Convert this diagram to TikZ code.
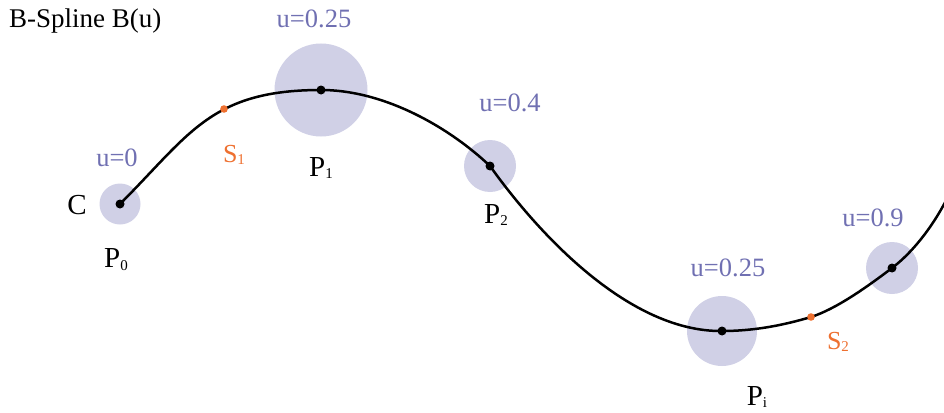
\documentclass[tikz,border=0pt]{standalone}
\usepackage{fontspec}
\setmainfont{Liberation Serif}
\definecolor{halo}{RGB}{208,208,230}
\definecolor{ulab}{RGB}{112,112,178}
\definecolor{knot}{RGB}{238,112,48}
\newcommand{\psub}[1]{\raisebox{-0.1em}{\fontsize{15}{15}\selectfont #1}}
\tikzset{
  ring/.style={circle, fill=halo, inner sep=0pt, minimum size=#1},
  ulabel/.style={text=ulab, font=\fontsize{26.5}{30}\selectfont, inner sep=0pt},
  slabel/.style={text=knot, font=\fontsize{26}{30}\selectfont, inner sep=0pt},
  plabel/.style={font=\fontsize{29}{33}\selectfont, inner sep=0pt}
}
\begin{document}
\begin{tikzpicture}[x=1pt,y=-1pt]
                \useasboundingbox (0,0) rectangle (944,412);

                % Titel
                \node[anchor=west, font=\fontsize{27}{32}\selectfont, inner sep=0pt] (title) at (9,21) {B-Spline B(u)};

                % Kontrollpunkte
                \coordinate (P0) at (120,204);
                \coordinate (S1) at (224,109);
                \coordinate (P1) at (321,90);
                \coordinate (P2) at (490,166);
                \coordinate (Pi) at (722,331);
                \coordinate (S2) at (811,317);
                \coordinate (P9) at (892,268);
                \coordinate (end) at (952,188);

                % Einflussbereiche
                \node[ring=41pt] (r0) at (P0) {};
                \node[ring=93pt] (r1) at (P1) {};
                \node[ring=52pt] (r2) at (P2) {};
                \node[ring=70pt] (ri) at (Pi) {};
                \node[ring=52pt] (r9) at (P9) {};

                % Kurve B(u)
                \draw[line width=2.5pt] (P0) .. controls (190,134) and (211,90) .. (P1)
                    .. controls (385,90) and (450,128) .. (P2)
                    .. controls (540,236) and (630,332) .. (Pi)
                    .. controls (755,331) and (784,325) .. (S2)
                    .. controls (836,309) and (867,287) .. (P9)
                    .. controls (912,253) and (936,224) .. (end);

                % Punkte
                \foreach \p in {P0,P1,P2,Pi,P9}
                    \fill (\p) circle (4.5pt);
                \fill[knot] (S1) circle (3.8pt);
                \fill[knot] (S2) circle (3.8pt);

                % Beschriftung
                \node[plabel] (c) at (77,205) {C};
                \node[ulabel] (u0) at (117,158) {u=0};
                \node[ulabel] (u1) at (314,19) {u=0.25};
                \node[ulabel] (u2) at (510,103) {u=0.4};
                \node[ulabel] (ui) at (728,268) {u=0.25};
                \node[ulabel] (u9) at (873,218) {u=0.9};
                \node[slabel] (s1) at (234,155) {S\psub{1}};
                \node[slabel] (s2) at (838,342) {S\psub{2}};
                \node[plabel] (p0) at (116,260) {P\psub{0}};
                \node[plabel] (p1) at (321,168) {P\psub{1}};
                \node[plabel] (p2) at (496,215) {P\psub{2}};
                \node[plabel] (pi) at (757,397) {P\psub{i}};

            \end{tikzpicture}
\end{document}
